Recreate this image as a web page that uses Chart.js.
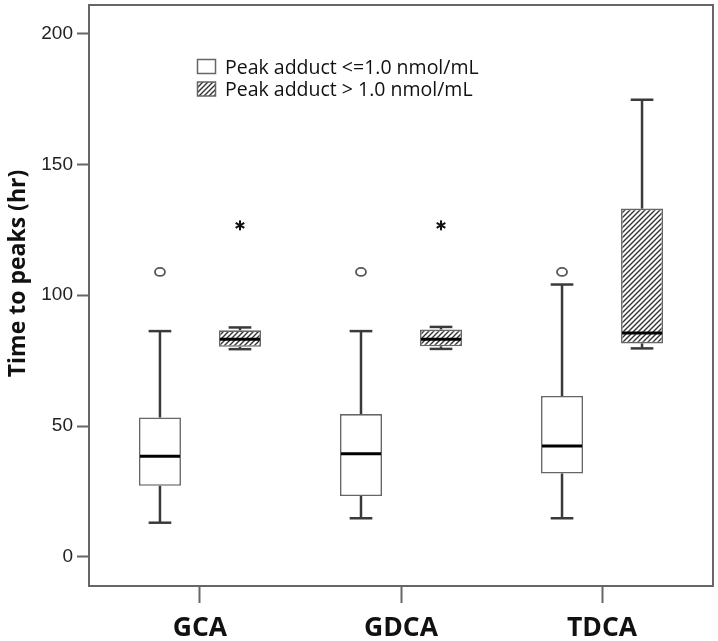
<!DOCTYPE html>
<html><head><meta charset="utf-8">
<script src="https://cdn.jsdelivr.net/npm/chart.js@4/dist/chart.umd.min.js"></script>
<style>html,body{margin:0;padding:0;background:#fff}#wrap{width:718px;height:641px}</style>
</head><body><div id="wrap"><canvas id="c" width="718" height="641"></canvas></div>
<script>
const categories = ['GCA', 'GDCA', 'TDCA'];
const seriesNames = ['Peak adduct <=1.0 nmol/mL', 'Peak adduct > 1.0 nmol/mL'];
const yTicks = [0, 50, 100, 150, 200];
const yTitle = 'Time to peaks (hr)';

// Peak adduct <= 1.0 nmol/mL
const lowMin      = [13.1, 14.8, 14.8];
const lowQ1       = [27.2, 23.3, 31.9];
const lowMedian   = [38.5, 39.4, 42.4];
const lowQ3       = [53.3, 54.6, 61.5];
const lowMax      = [86.3, 86.3, 104.1];
const lowOutliers = [108.9, 108.9, 108.9];
const lowExtremes = [null, null, null];

// Peak adduct > 1.0 nmol/mL
const highMin      = [79.4, 79.5, 79.7];
const highQ1       = [80.3, 80.5, 81.6];
const highMedian   = [83.2, 83.2, 85.6];
const highQ3       = [86.6, 86.9, 133.1];
const highMax      = [87.7, 87.9, 174.7];
const highOutliers = [null, null, null];
const highExtremes = [126.7, 126.7, null];

function makeHatch() {
  const c = document.createElement('canvas');
  c.width = 5; c.height = 5;
  const g = c.getContext('2d');
  g.fillStyle = '#fff'; g.fillRect(0, 0, 5, 5);
  g.strokeStyle = '#333'; g.lineWidth = 1.4;
  g.beginPath();
  g.moveTo(-1, 6); g.lineTo(6, -1);
  g.moveTo(-1, 1); g.lineTo(1, -1);
  g.moveTo(4, 6); g.lineTo(6, 4);
  g.stroke();
  return g.createPattern(c, 'repeat');
}

const canvas = document.getElementById('c');
const ctx0 = canvas.getContext('2d');
const hatch = makeHatch();

function line(ctx, x1, y1, x2, y2) { ctx.beginPath(); ctx.moveTo(x1, y1); ctx.lineTo(x2, y2); ctx.stroke(); }

const boxPlugin = {
  id: 'boxes',
  afterDatasetsDraw(chart) {
    const ctx = chart.ctx, y = chart.scales.y;
    chart.data.datasets.forEach((ds, di) => {
      const meta = chart.getDatasetMeta(di);
      const st = ds.stats;
      meta.data.forEach((bar, i) => {
        const p = bar.getProps(['x', 'width'], true);
        const cx = p.x, w = p.width;
        const yMin = y.getPixelForValue(st.min[i]);
        const yQ1 = y.getPixelForValue(st.q1[i]);
        const yMed = y.getPixelForValue(st.med[i]);
        const yQ3 = y.getPixelForValue(st.q3[i]);
        const yMax = y.getPixelForValue(st.max[i]);
        ctx.save();
        ctx.lineCap = 'butt';
        ctx.strokeStyle = '#3a3a3a'; ctx.lineWidth = 2.5;
        line(ctx, cx, yQ3, cx, yMax);
        line(ctx, cx, yQ1, cx, yMin);
        line(ctx, cx - w * 0.27, yMax, cx + w * 0.27, yMax);
        line(ctx, cx - w * 0.27, yMin, cx + w * 0.27, yMin);
        ctx.strokeStyle = '#000'; ctx.lineWidth = 3;
        line(ctx, cx - w / 2 + 1, yMed, cx + w / 2 - 1, yMed);
        if (st.outliers[i] != null) {
          const oy = y.getPixelForValue(st.outliers[i]);
          ctx.strokeStyle = '#555'; ctx.lineWidth = 1.8; ctx.fillStyle = '#fff';
          ctx.beginPath(); ctx.ellipse(cx, oy, 5, 4, 0, 0, Math.PI * 2); ctx.fill(); ctx.stroke();
        }
        if (st.extremes[i] != null) {
          const ey = y.getPixelForValue(st.extremes[i]);
          ctx.strokeStyle = '#111'; ctx.lineWidth = 2;
          const r = 5;
          for (let k = 0; k < 3; k++) {
            const a = Math.PI / 2 + k * Math.PI / 3;
            line(ctx, cx - r * Math.cos(a), ey - r * Math.sin(a), cx + r * Math.cos(a), ey + r * Math.sin(a));
          }
        }
        ctx.restore();
      });
    });
  },
  afterDraw(chart) {
    const ctx = chart.ctx, a = chart.chartArea;
    ctx.save();
    // frame top & right
    ctx.strokeStyle = '#666'; ctx.lineWidth = 2;
    ctx.beginPath(); ctx.moveTo(a.left, a.top); ctx.lineTo(a.right, a.top); ctx.lineTo(a.right, a.bottom); ctx.stroke();
    // legend
    const fills = ['#fff', hatch];
    const rows = [59.5, 82];
    ctx.font = '19.5px "Open Sans"';
    ctx.textAlign = 'left'; ctx.textBaseline = 'alphabetic';
    seriesNames.forEach((n, k) => {
      ctx.fillStyle = fills[k];
      ctx.fillRect(197.5, rows[k], 18, 14);
      ctx.strokeStyle = '#666'; ctx.lineWidth = 1.5;
      ctx.strokeRect(197.5, rows[k], 18, 14);
      ctx.fillStyle = '#111';
      ctx.fillText(n, 225, rows[k] + 14);
    });
    // y title
    ctx.translate(25, 273.5);
    ctx.rotate(-Math.PI / 2);
    ctx.font = 'bold 23px "Open Sans"';
    ctx.textAlign = 'center'; ctx.fillStyle = '#111';
    ctx.fillText(yTitle, 0, 0);
    ctx.restore();
  }
};

function mkData(q1, q3) { return categories.map((c, i) => ({ x: i, y: [q1[i], q3[i]] })); }

new Chart(ctx0, {
  type: 'bar',
  data: {
    datasets: [
      { label: seriesNames[0], data: mkData(lowQ1, lowQ3), backgroundColor: '#fff', borderColor: '#666', borderWidth: 1.6, borderSkipped: false,
        stats: { min: lowMin, q1: lowQ1, med: lowMedian, q3: lowQ3, max: lowMax, outliers: lowOutliers, extremes: lowExtremes } },
      { label: seriesNames[1], data: mkData(highQ1, highQ3), backgroundColor: hatch, borderColor: '#666', borderWidth: 1.6, borderSkipped: false,
        stats: { min: highMin, q1: highQ1, med: highMedian, q3: highQ3, max: highMax, outliers: highOutliers, extremes: highExtremes } }
    ]
  },
  options: {
    responsive: false, animation: false,
    layout: { padding: { top: 5, right: 5, left: 0, bottom: 0 } },
    datasets: { bar: { categoryPercentage: 0.796, barPercentage: 0.525, grouped: true } },
    plugins: { legend: { display: false }, tooltip: { enabled: false } },
    scales: {
      x: {
        type: 'linear', min: -0.552, max: 2.552, offset: false,
        afterBuildTicks: s => { s.ticks = categories.map((c, i) => ({ value: i })); },
        afterFit: s => { s.height = 55; s.paddingLeft = 0; s.paddingRight = 0; },
        ticks: { callback: v => categories[v], font: { family: 'Open Sans', size: 26.5, weight: 'bold' }, color: '#111', padding: 10, autoSkip: false, maxRotation: 0 },
        grid: { offset: false, drawOnChartArea: false, drawTicks: true, tickLength: 17, tickColor: '#666', tickWidth: 2 },
        border: { display: true, color: '#666', width: 2 }
      },
      y: {
        min: -11.08, max: 210.89,
        afterBuildTicks: s => { s.ticks = yTicks.map(v => ({ value: v })); },
        afterFit: s => { s.width = 89; s.paddingTop = 0; s.paddingBottom = 0; },
        ticks: { font: { family: 'Liberation Sans', size: 19 }, color: '#222', padding: 4 },
        grid: { drawOnChartArea: false, drawTicks: true, tickLength: 12, tickColor: '#666', tickWidth: 2 },
        border: { display: true, color: '#666', width: 2 }
      }
    }
  },
  plugins: [boxPlugin]
});
</script></body></html>
